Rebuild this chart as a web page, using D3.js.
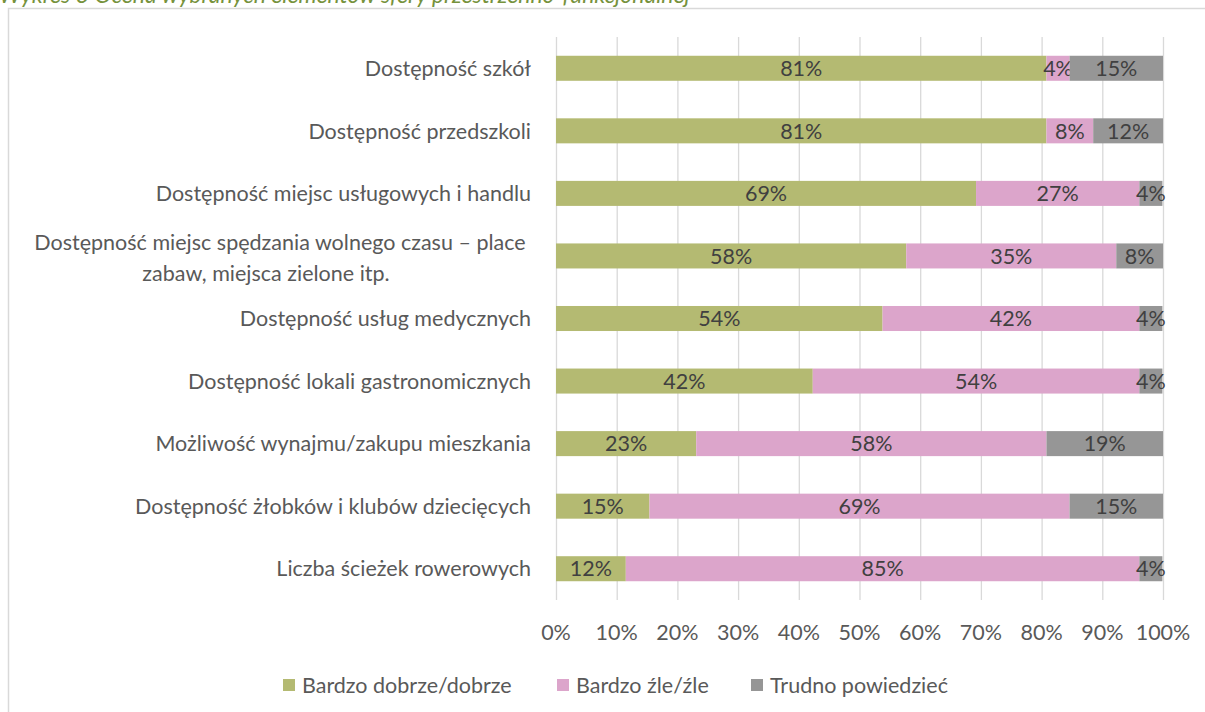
<!DOCTYPE html>
<html>
<head>
<meta charset="utf-8">
<script src="https://cdn.jsdelivr.net/npm/d3@7"></script>
<style>
  body { margin: 0; background: #fff; }
  svg { display: block; font-family: Lato, "Open Sans", sans-serif; }
</style>
</head>
<body>
<svg id="chart" width="1205" height="712"></svg>
<script>
// categories, top to bottom
const categories = [
    ["Dostępność szkół"],
    ["Dostępność przedszkoli"],
    ["Dostępność miejsc usługowych i handlu"],
    ["Dostępność miejsc spędzania wolnego czasu – place", "zabaw, miejsca zielone itp."],
    ["Dostępność usług medycznych"],
    ["Dostępność lokali gastronomicznych"],
    ["Możliwość wynajmu/zakupu mieszkania"],
    ["Dostępność żłobków i klubów dziecięcych"],
    ["Liczba ścieżek rowerowych"]
];
const seriesNames = ["Bardzo dobrze/dobrze", "Bardzo źle/źle", "Trudno powiedzieć"];
const good = [80.8, 80.8, 69.2, 57.7, 53.8, 42.3, 23.1, 15.4, 11.5];
const bad = [3.8, 7.7, 26.9, 34.6, 42.3, 53.8, 57.7, 69.2, 84.6];
const hard = [15.4, 11.5, 3.8, 7.7, 3.8, 3.8, 19.2, 15.4, 3.8];
const xTicks = [0, 10, 20, 30, 40, 50, 60, 70, 80, 90, 100];
const colors = ["#b4ba72", "#dca5cb", "#969696"];

const fs = 21.5;
const svg = d3.select('#chart');

// frame and caption
svg.append('rect')
    .attr('x', 8.5).attr('y', 8.5)
    .attr('width', 1210).attr('height', 720)
    .attr('fill', 'none')
    .attr('stroke', '#d9d9d9')
    .attr('stroke-width', 1.5);

svg.append('text')
    .attr('x', -1).attr('y', 2.5)
    .attr('font-size', 23)
    .attr('font-style', 'italic')
    .attr('fill', '#76923c')
    .text('Wykres 3 Ocena wybranych elementów sfery przestrzenno-funkcjonalnej');

const x = d3.scaleLinear().domain([0, 100]).range([556, 1163]);
const y = d3.scaleBand()
    .domain(d3.range(categories.length))
    .range([37, 600])
    .paddingInner(0.6)
    .paddingOuter(0.3);

// gridlines
svg.append('g')
    .selectAll('line')
    .data(xTicks)
    .enter().append('line')
    .attr('x1', d => x(d) + 0.5).attr('x2', d => x(d) + 0.5)
    .attr('y1', 37).attr('y2', 600)
    .attr('stroke', '#d9d9d9')
    .attr('stroke-width', 1.3);

// stack
const rows = categories.map((c, i) => ({ i: i, v: [good[i], bad[i], hard[i]] }));
const stack = d3.stack().keys([0, 1, 2]).value((d, k) => d.v[k]);
const layers = stack(rows);

const layerG = svg.append('g')
    .selectAll('g')
    .data(layers)
    .enter().append('g')
    .attr('fill', (d, k) => colors[k]);

layerG.selectAll('rect')
    .data(d => d)
    .enter().append('rect')
    .attr('x', d => x(d[0]))
    .attr('y', d => y(d.data.i))
    .attr('width', d => x(d[1]) - x(d[0]))
    .attr('height', y.bandwidth());

// value labels
layerG.selectAll('text')
    .data(d => d)
    .enter().append('text')
    .attr('x', d => (x(d[0]) + x(d[1])) / 2)
    .attr('y', d => y(d.data.i) + y.bandwidth() / 2)
    .attr('dy', '0.36em')
    .attr('text-anchor', 'middle')
    .attr('font-size', fs)
    .attr('fill', '#404040')
    .text(d => Math.round(d[1] - d[0]) + '%');

// category labels
const catG = svg.append('g')
    .selectAll('text')
    .data(categories)
    .enter().append('text')
    .attr('font-size', fs)
    .attr('fill', '#595959')
    .attr('y', (d, i) => y(i) + y.bandwidth() / 2);

catG.selectAll('tspan')
    .data(d => d.map((t, j) => ({ t: t, j: j, n: d.length })))
    .enter().append('tspan')
    .attr('text-anchor', d => d.n > 1 ? 'middle' : 'end')
    .attr('x', d => d.n > 1 ? (d.j === 0 ? 280 : 266) : 531)
    .attr('dy', d => d.n > 1 ? (d.j === 0 ? -5.5 : 31) : 7.7)
    .text(d => d.t);

// x axis labels
svg.append('g')
    .selectAll('text')
    .data(xTicks)
    .enter().append('text')
    .attr('x', d => x(d))
    .attr('y', 632)
    .attr('dy', '0.36em')
    .attr('text-anchor', 'middle')
    .attr('font-size', fs)
    .attr('fill', '#595959')
    .text(d => d + '%');

// legend
const legendX = [283, 557, 751];
const legend = svg.append('g')
    .selectAll('g')
    .data(seriesNames)
    .enter().append('g')
    .attr('transform', (d, k) => `translate(${legendX[k]},685)`);

legend.append('rect')
    .attr('x', 0).attr('y', -6)
    .attr('width', 12).attr('height', 12)
    .attr('fill', (d, k) => colors[k]);

legend.append('text')
    .attr('x', 19)
    .attr('dy', '0.36em')
    .attr('font-size', fs)
    .attr('fill', '#595959')
    .text(d => d);
</script>
</body>
</html>
